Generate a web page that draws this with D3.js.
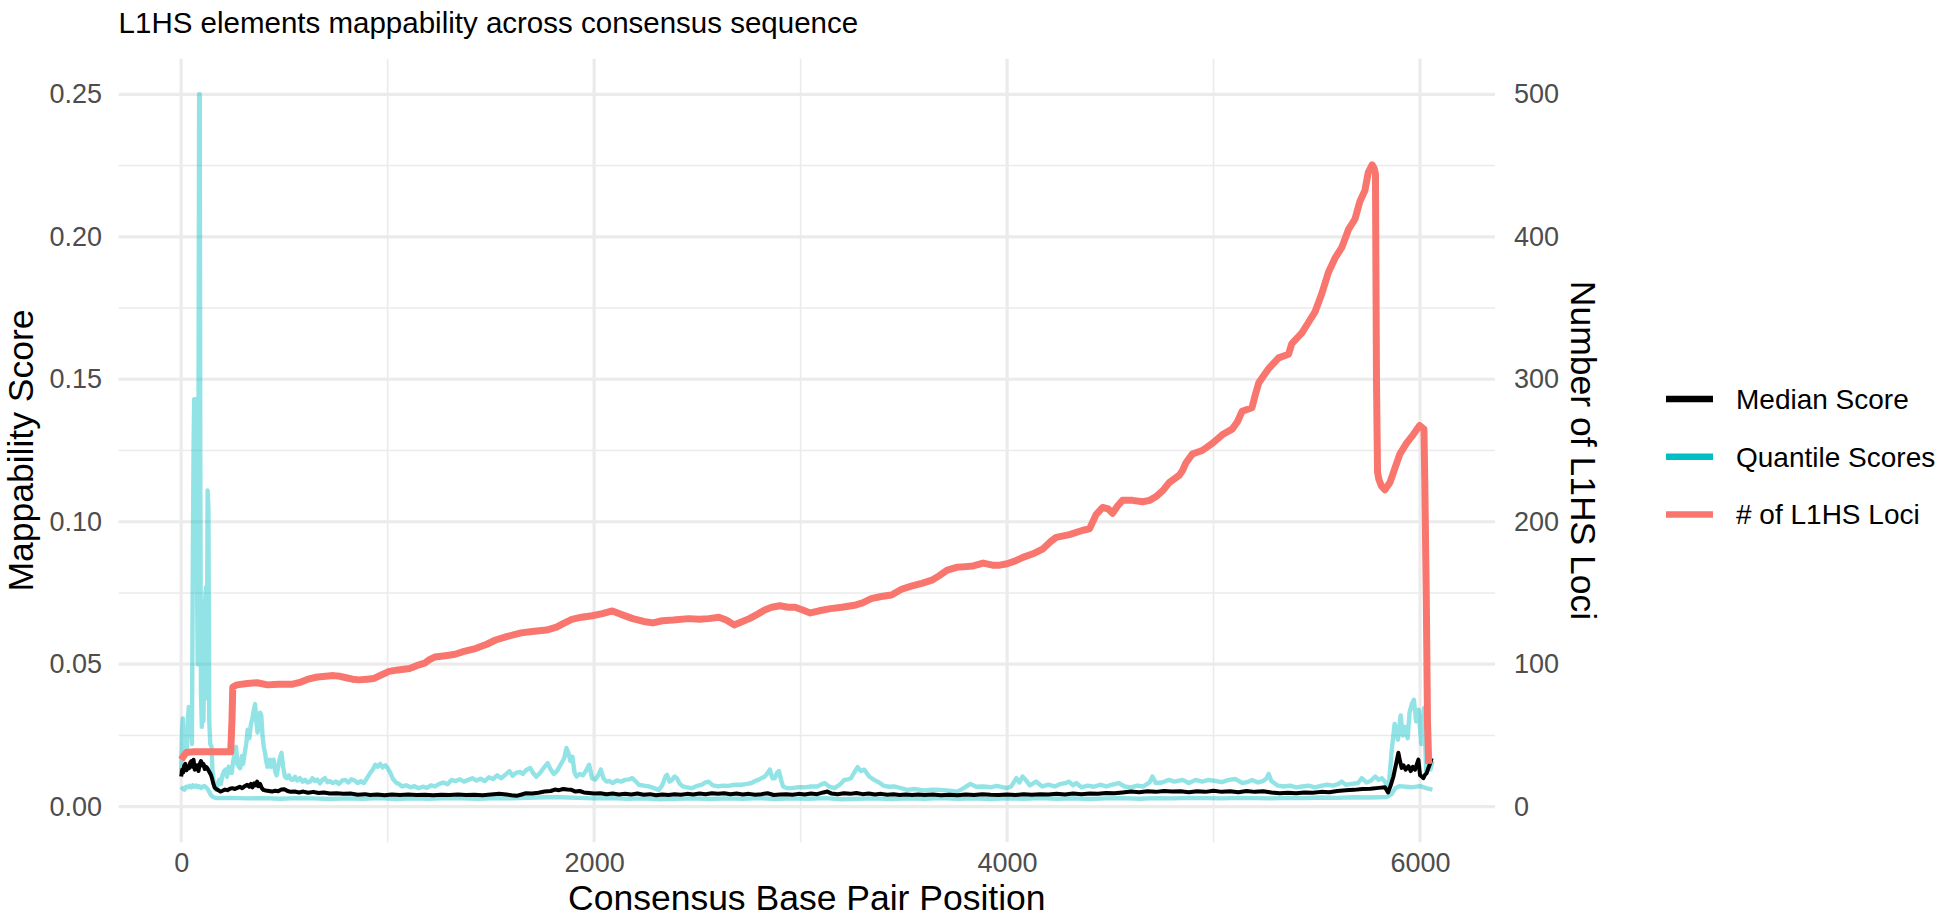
<!DOCTYPE html>
<html>
<head>
<meta charset="utf-8">
<script src="https://cdn.jsdelivr.net/npm/d3@7"></script>
<style>
  body { margin: 0; background: #fff; }
  svg { display: block; font-family: "Liberation Sans", Arial, Helvetica, sans-serif; }
</style>
</head>
<body>
<svg id="chart" width="1946" height="919"></svg>
<script>
// upper quantile score (consensus position, score)
const upperPos = [0,4,8,12,17,22,27,32,37,42,47,52,56,60,63,68,72,76,80,84,87,90,93,96,100,104,108,112,116,120,124,128,132,136,141,147,152,157,163,170,
  178,185,192,200,208,215,222,230,238,245,252,260,266,272,280,286,293,300,308,315,322,330,338,345,352,358,364,370,376,382,388,394,400,406,412,418,424,430,436,442,448,455,462,470,478,486,494,502,512,522,532,542,552,562,575,588,600,612,624,636,648,660,672,684,696,708,720,735,750,765,780,795,810,825,840,855,870,885,900,915,928,940,952,964,976,988,1000,
  1012,1025,1040,1055,1070,1090,1110,1130,1150,1170,1190,1210,1230,1250,1270,1290,1310,1330,1350,1370,1390,1410,1430,1450,1470,1490,1510,1530,1550,1570,1590,1605,1620,1640,1655,1670,1690,1705,1720,1740,1760,1775,1790,1805,1820,1840,1855,1866,1875,1885,1895,1905,1915,1930,1945,1960,1976,1990,
  2005,2020,2032,2045,2060,2075,2090,2110,2130,2150,2170,2185,2200,2217,2240,2265,2290,2313,2330,2345,2353,2365,2377,2390,2401,2415,2430,2450,2473,2495,2522,2540,2554,2575,2602,2625,2650,2680,2714,2740,2762,2780,2795,2810,2827,2840,2851,2863,2875,2885,2895,2905,2915,2935,2955,2985,
  3019,3050,3083,3100,3116,3140,3164,3190,3212,3230,3244,3260,3276,3292,3308,3320,3332,3344,3356,3380,3404,3430,3453,3485,3517,3550,3597,3640,3677,3720,3758,3790,3822,3850,3886,3920,3950,3998,
  4020,4045,4060,4075,4090,4110,4140,4170,4200,4230,4260,4285,4300,4320,4335,4360,4390,4420,4450,4480,4510,4540,4570,4600,4630,4660,4690,4704,4720,4750,4784,4810,4850,4880,4913,4945,4975,
  5010,5040,5074,5106,5140,5170,5187,5215,5240,5255,5267,5280,5310,5340,5370,5400,5430,5460,5490,5520,5550,5580,5605,5621,5640,5670,5700,5718,5740,5760,5783,5800,5815,5830,5847,5863,5877,5893,5906,5917,5928,5940,5949,5960,5970,5981,5993,6006,6019,6030,6040,6050,6060];
const upperScore = [0.012,0.026,0.031,0.020,0.024,0.027,0.020,0.030,0.035,0.026,0.031,0.022,0.080,0.125,0.143,0.108,0.143,0.090,0.050,0.140,0.250,0.250,0.110,0.040,0.028,0.066,0.030,0.060,0.072,0.077,0.038,0.111,0.105,0.030,0.022,0.021,0.012,0.009,0.0065,0.0059,
  0.0085,0.0094,0.0080,0.0110,0.0125,0.0130,0.0105,0.0140,0.0120,0.0118,0.0160,0.0190,0.0210,0.0150,0.0140,0.0135,0.0177,0.0150,0.0190,0.0220,0.0270,0.0240,0.0290,0.0310,0.0340,0.0360,0.0300,0.0260,0.0300,0.0330,0.0320,0.0250,0.0210,0.0190,0.0160,0.0140,0.0150,0.0165,0.0140,0.0150,0.0165,0.0125,0.0110,0.0140,0.0170,0.0189,0.0140,0.0106,0.0100,0.0110,0.0095,0.0094,0.0105,0.0092,0.0100,0.0088,0.0094,0.0085,0.0088,0.0100,0.0090,0.0095,0.0082,0.0094,0.0100,0.0086,0.0090,0.0083,0.0088,0.0080,0.0092,0.0094,0.0085,0.0096,0.0092,0.0083,0.0090,0.0083,0.0100,0.0118,0.0130,0.0147,0.0140,0.0150,0.0138,0.0145,0.0136,
  0.0120,0.0098,0.0085,0.0080,0.0071,0.0075,0.0068,0.0072,0.0065,0.0070,0.0066,0.0075,0.0071,0.0080,0.0085,0.0079,0.0094,0.0090,0.0096,0.0088,0.0094,0.0100,0.0092,0.0098,0.0090,0.0103,0.0097,0.0110,0.0100,0.0112,0.0125,0.0108,0.0118,0.0122,0.0115,0.0128,0.0136,0.0118,0.0105,0.0120,0.0140,0.0153,0.0130,0.0115,0.0125,0.0150,0.0170,0.0206,0.0190,0.0160,0.0175,0.0120,0.0106,0.0115,0.0110,0.0125,0.0147,0.0100,
  0.0095,0.0110,0.0130,0.0100,0.0088,0.0090,0.0083,0.0092,0.0088,0.0094,0.0096,0.0100,0.0090,0.0077,0.0074,0.0071,0.0065,0.0059,0.0075,0.0105,0.0112,0.0088,0.0094,0.0106,0.0100,0.0080,0.0071,0.0068,0.0065,0.0072,0.0077,0.0085,0.0088,0.0075,0.0071,0.0074,0.0073,0.0077,0.0077,0.0080,0.0083,0.0090,0.0094,0.0100,0.0106,0.0118,0.0130,0.0100,0.0100,0.0118,0.0125,0.0095,0.0071,0.0065,0.0065,0.0068,
  0.0068,0.0071,0.0071,0.0078,0.0083,0.0070,0.0065,0.0078,0.0094,0.0096,0.0100,0.0120,0.0139,0.0125,0.0130,0.0118,0.0106,0.0100,0.0094,0.0085,0.0073,0.0070,0.0071,0.0065,0.0059,0.0062,0.0057,0.0060,0.0059,0.0056,0.0053,0.0065,0.0080,0.0070,0.0071,0.0068,0.0073,0.0065,
  0.0071,0.0100,0.0085,0.0106,0.0094,0.0075,0.0088,0.0071,0.0077,0.0071,0.0080,0.0083,0.0088,0.0075,0.0083,0.0068,0.0074,0.0070,0.0077,0.0071,0.0077,0.0083,0.0071,0.0068,0.0074,0.0071,0.0085,0.0106,0.0083,0.0085,0.0094,0.0088,0.0094,0.0083,0.0094,0.0088,0.0094,
  0.0090,0.0086,0.0094,0.0097,0.0083,0.0088,0.0094,0.0085,0.0090,0.0098,0.0115,0.0090,0.0074,0.0071,0.0074,0.0068,0.0071,0.0074,0.0068,0.0073,0.0077,0.0074,0.0080,0.0088,0.0077,0.0080,0.0083,0.0100,0.0085,0.0090,0.0106,0.0094,0.0100,0.0088,0.0059,0.0200,0.0290,0.0235,0.0320,0.0250,0.0280,0.0240,0.0330,0.0360,0.0375,0.0300,0.0340,0.0220,0.0346,0.0120,0.0145,0.0130,0.0160];

// median score
const medianPos = [0,5,10,15,20,26,32,38,44,50,55,60,66,72,78,84,90,96,102,108,114,120,126,132,138,144,150,156,162,170,180,190,200,212,224,236,248,260,272,284,296,308,320,330,338,346,354,362,368,374,382,390,398,410,425,440,455,470,485,500,515,530,550,570,592,615,640,665,690,720,753,785,820,855,890,915,950,985,
  1020,1060,1100,1140,1180,1220,1260,1300,1340,1380,1420,1460,1500,1540,1575,1600,1624,1645,1670,1700,1730,1760,1790,1810,1830,1850,1870,1890,1910,1930,1950,1975,
  2000,2030,2060,2090,2120,2150,2180,2210,2240,2270,2300,2330,2360,2390,2420,2450,2480,2510,2540,2570,2600,2630,2660,2690,2720,2750,2780,2810,2840,2870,2900,2930,2960,2990,
  3020,3050,3080,3110,3130,3150,3180,3210,3240,3270,3300,3330,3360,3390,3420,3450,3480,3510,3540,3570,3600,3640,3680,3720,3760,3800,3840,3880,3920,3960,
  4000,4040,4080,4120,4160,4200,4240,4280,4320,4360,4400,4440,4480,4520,4560,4600,4640,4680,4720,4760,4800,4840,4880,4920,4960,
  5000,5040,5080,5120,5160,5200,5240,5280,5320,5360,5400,5440,5480,5520,5560,5600,5640,5680,5720,5760,5800,5830,5845,5858,5871,5884,5895,5903,5911,5920,5930,5944,5955,5965,5976,5985,5992,6000,6008,6016,6024,6032,6040,6048,6056];
const medianScore = [0.0106,0.0130,0.0120,0.0145,0.0150,0.0128,0.0140,0.0135,0.0155,0.0160,0.0140,0.0165,0.0130,0.0135,0.0145,0.0125,0.0150,0.0160,0.0145,0.0150,0.0132,0.0140,0.0136,0.0128,0.0120,0.0112,0.0098,0.0080,0.0068,0.0062,0.0058,0.0053,0.0056,0.0060,0.0058,0.0063,0.0065,0.0062,0.0066,0.0070,0.0065,0.0072,0.0077,0.0070,0.0080,0.0068,0.0082,0.0075,0.0088,0.0072,0.0080,0.0066,0.0059,0.0057,0.0055,0.0053,0.0056,0.0054,0.0060,0.0061,0.0055,0.0052,0.0053,0.0050,0.0053,0.0049,0.0052,0.0048,0.0050,0.0046,0.0047,0.0045,0.0046,0.0042,0.0044,0.0041,0.0043,0.0040,
  0.0043,0.0041,0.0043,0.0041,0.0042,0.0040,0.0042,0.0041,0.0043,0.0041,0.0042,0.0040,0.0043,0.0045,0.0043,0.0040,0.0038,0.0042,0.0047,0.0046,0.0049,0.0053,0.0055,0.0060,0.0058,0.0062,0.0060,0.0059,0.0053,0.0055,0.0050,0.0048,
  0.0046,0.0047,0.0044,0.0046,0.0043,0.0045,0.0043,0.0046,0.0042,0.0044,0.0040,0.0043,0.0041,0.0044,0.0042,0.0045,0.0043,0.0046,0.0044,0.0047,0.0045,0.0047,0.0044,0.0046,0.0043,0.0045,0.0042,0.0044,0.0047,0.0041,0.0043,0.0044,0.0042,0.0045,
  0.0043,0.0046,0.0044,0.0050,0.0053,0.0046,0.0044,0.0047,0.0045,0.0048,0.0044,0.0046,0.0043,0.0045,0.0042,0.0044,0.0041,0.0043,0.0041,0.0043,0.0041,0.0043,0.0040,0.0042,0.0040,0.0043,0.0041,0.0044,0.0042,0.0041,
  0.0043,0.0041,0.0044,0.0042,0.0044,0.0043,0.0045,0.0043,0.0046,0.0044,0.0046,0.0045,0.0048,0.0047,0.0050,0.0053,0.0051,0.0054,0.0052,0.0055,0.0053,0.0054,0.0051,0.0054,0.0052,
  0.0056,0.0052,0.0054,0.0051,0.0055,0.0052,0.0054,0.0050,0.0047,0.0049,0.0047,0.0050,0.0049,0.0052,0.0051,0.0055,0.0058,0.0059,0.0062,0.0063,0.0066,0.0068,0.0050,0.0075,0.0106,0.0150,0.0189,0.0160,0.0136,0.0145,0.0130,0.0142,0.0125,0.0140,0.0130,0.0150,0.0165,0.0110,0.0106,0.0100,0.0112,0.0118,0.0135,0.0150,0.0170];

// lower quantile score
const lowerPos = [0,8,16,24,32,40,48,56,64,72,80,88,96,104,112,120,128,136,144,152,162,175,
  240,320,400,480,560,640,720,800,880,960,1040,1120,1200,1280,1360,1440,1520,1600,1680,1760,1840,1920,
  2000,2080,2160,2240,2320,2400,2480,2560,2640,2720,2800,2880,2960,3040,3120,3200,3280,3360,3440,3520,3600,3680,3760,3840,3920,
  4000,4080,4160,4240,4320,4400,4480,4560,4640,4720,4800,4880,4960,5040,5120,5200,5280,5360,5440,5520,5600,5680,5760,5840,
  5863,5880,5900,5930,5960,6000,6030,6060];
const lowerScore = [0.0059,0.0065,0.0060,0.0070,0.0068,0.0073,0.0068,0.0075,0.0070,0.0074,0.0068,0.0072,0.0066,0.0070,0.0073,0.0068,0.0062,0.0052,0.0041,0.0035,0.0032,0.0030,
  0.0031,0.0029,0.0030,0.0028,0.0030,0.0029,0.0027,0.0029,0.0028,0.0030,0.0027,0.0029,0.0028,0.0030,0.0029,0.0028,0.0030,0.0029,0.0031,0.0033,0.0033,0.0031,
  0.0029,0.0030,0.0028,0.0029,0.0026,0.0028,0.0029,0.0027,0.0029,0.0028,0.0030,0.0027,0.0029,0.0028,0.0030,0.0026,0.0028,0.0029,0.0027,0.0029,0.0028,0.0030,0.0028,0.0029,0.0027,
  0.0029,0.0028,0.0030,0.0028,0.0029,0.0027,0.0029,0.0030,0.0028,0.0030,0.0029,0.0031,0.0030,0.0029,0.0031,0.0030,0.0029,0.0031,0.0030,0.0032,0.0031,0.0033,0.0032,0.0034,
  0.0045,0.0065,0.0072,0.0070,0.0068,0.0072,0.0065,0.0060];

// number of L1HS loci covering each position
const lociPos = [0,10,25,60,120,180,240,246,250,270,320,368,418,470,540,580,614,660,700,737,770,799,830,860,900,934,970,
  1007,1050,1106,1140,1179,1200,1228,1280,1327,1370,1425,1480,1523,1580,1646,1700,1769,1818,1850,1892,1940,1990,
  2040,2088,2130,2187,2240,2285,2330,2383,2457,2510,2555,2604,2640,2678,2710,2752,2790,2826,2860,2899,2940,2973,
  3010,3047,3090,3145,3200,3268,3300,3342,3390,3440,3470,3489,3540,3587,3636,3670,3710,3756,3800,3836,3884,3930,3965,
  4000,4040,4077,4125,4174,4210,4238,4302,4367,4399,4431,4463,4490,4511,4535,4559,4608,4656,4690,4720,4755,4785,4833,4850,4865,4897,4945,4994,
  5042,5090,5115,5138,5186,5200,5219,5267,5315,5363,5379,5428,5460,5492,5524,5556,5588,5621,5653,5685,5709,5733,5749,5768,5778,5784,5789,5794,5800,5813,5830,5854,5878,5902,5934,5966,5998,
  6010,6019,6023,6030,6036,6042];
const lociCount = [33,35,38,38.5,38.5,38.5,38.5,60,84,85.5,86.5,87,85.5,86,86,87.5,89.5,91,91.5,92,91.5,90.5,89.5,89,89.5,90,92.5,
  95,96,97,99,100.7,103,105,106,107,109,111,114,117,119.5,122,123,124,126,128.5,131.5,133,134,
  135.5,137.4,135,132,130,129,130.5,131,132,131.5,132,133,131,127.6,129.5,132,135,138,140,141,140,140,
  138,136,137.5,139,140,141.6,143,146,147.5,148.6,151,152.6,155,156.8,159,162,166,168,168.5,169,171,169.5,169.5,
  170.5,172.5,175,177.5,181,186,189,191,194,195,205,210,209,206,211,215,215,214,215,217.5,222,227.5,232.5,236,241,247.5,250,255,
  261,265,270,277.5,280,288,297.5,307.5,315,317.5,325,332.5,340,347.5,360,375,385,392.5,405,412.5,425,432.5,445,450.5,448,444,300,235,230,225,222.5,227.5,237.5,247.5,255,261,267.5,
  266,265,227.5,150,60,30];

const lociPerScore = 2000;           // secondary axis: loci = score * 2000
const scoreTicks = [0, 0.05, 0.10, 0.15, 0.20, 0.25];
const scoreMinor = [0.025, 0.075, 0.125, 0.175, 0.225];
const posTicks = [0, 2000, 4000, 6000];
const posMinor = [1000, 3000, 5000];
const lociTicks = [0, 100, 200, 300, 400, 500];

const legendItems = [
  { label: "Median Score", color: "#000000" },
  { label: "Quantile Scores", color: "#00BFC4" },
  { label: "# of L1HS Loci", color: "#F8766D" }
];

const svg = d3.select("#chart");
const panel = { left: 118.6, right: 1495, top: 58.7, bottom: 842.3 };

// ggplot style 5% expansion of the data range
const xMax = d3.max([d3.max(upperPos), d3.max(medianPos), d3.max(lowerPos), d3.max(lociPos)]);
const x = d3.scaleLinear()
  .domain([-0.05 * xMax, 1.05 * xMax])
  .range([panel.left, panel.right]);
const yMax = d3.max(upperScore);
const y = d3.scaleLinear()
  .domain([-0.05 * yMax, 1.05 * yMax])
  .range([panel.bottom, panel.top]);
const ySec = d3.scaleLinear()
  .domain(y.domain().map(d => d * lociPerScore))
  .range(y.range());

// grid
const grid = svg.append("g").attr("stroke", "#EBEBEB").attr("fill", "none");
grid.selectAll(".hminor").data(scoreMinor).join("line")
  .attr("x1", panel.left).attr("x2", panel.right)
  .attr("y1", d => y(d)).attr("y2", d => y(d)).attr("stroke-width", 1.6);
grid.selectAll(".vminor").data(posMinor).join("line")
  .attr("y1", panel.top).attr("y2", panel.bottom)
  .attr("x1", d => x(d)).attr("x2", d => x(d)).attr("stroke-width", 1.6);
grid.selectAll(".hmajor").data(scoreTicks).join("line")
  .attr("x1", panel.left).attr("x2", panel.right)
  .attr("y1", d => y(d)).attr("y2", d => y(d)).attr("stroke-width", 3.2);
grid.selectAll(".vmajor").data(posTicks).join("line")
  .attr("y1", panel.top).attr("y2", panel.bottom)
  .attr("x1", d => x(d)).attr("x2", d => x(d)).attr("stroke-width", 3.2);

// lines
const line = d3.line().x(d => x(d[0])).y(d => y(d[1]));
const zip = (a, b) => a.map((v, i) => [v, b[i]]);

svg.append("path").datum(zip(upperPos, upperScore))
  .attr("d", line).attr("fill", "none").attr("stroke", "#00BFC4")
  .attr("stroke-opacity", 0.43).attr("stroke-width", 4.4).attr("stroke-linejoin", "round");
svg.append("path").datum(zip(lowerPos, lowerScore))
  .attr("d", line).attr("fill", "none").attr("stroke", "#00BFC4")
  .attr("stroke-opacity", 0.43).attr("stroke-width", 4.4).attr("stroke-linejoin", "round");
svg.append("path").datum(zip(medianPos, medianScore))
  .attr("d", line).attr("fill", "none").attr("stroke", "#000")
  .attr("stroke-width", 4).attr("stroke-linejoin", "round");
svg.append("path").datum(zip(lociPos, lociCount.map(d => d / lociPerScore)))
  .attr("d", line).attr("fill", "none").attr("stroke", "#F8766D")
  .attr("stroke-width", 7).attr("stroke-linejoin", "round");

// axes (labels only, like theme_minimal)
const tickFont = g => {
  g.select(".domain").remove();
  g.selectAll(".tick line").remove();
  g.selectAll("text").attr("fill", "#4D4D4D").style("font-size", "27px");
};

svg.append("g").attr("transform", `translate(${panel.left},0)`)
  .call(d3.axisLeft(y).tickValues(scoreTicks).tickSize(0).tickPadding(16.5).tickFormat(d3.format(".2f")))
  .call(tickFont);
svg.append("g").attr("transform", `translate(${panel.right},0)`)
  .call(d3.axisRight(ySec).tickValues(lociTicks).tickSize(0).tickPadding(19).tickFormat(d3.format("d")))
  .call(tickFont);
svg.append("g").attr("transform", `translate(0,${panel.bottom})`)
  .call(d3.axisBottom(x).tickValues(posTicks).tickSize(0).tickPadding(10.5).tickFormat(d3.format("d")))
  .call(tickFont);

// titles
svg.append("text").attr("x", panel.left).attr("y", 33)
  .style("font-size", "29.5px").attr("fill", "#000")
  .text("L1HS elements mappability across consensus sequence");
svg.append("text").attr("x", (panel.left + panel.right) / 2).attr("y", 910)
  .attr("text-anchor", "middle").style("font-size", "35.5px")
  .text("Consensus Base Pair Position");
svg.append("text")
  .attr("transform", `translate(33,${(panel.top + panel.bottom) / 2}) rotate(-90)`)
  .attr("text-anchor", "middle").style("font-size", "35.5px")
  .text("Mappability Score");
svg.append("text")
  .attr("transform", `translate(1571,${(panel.top + panel.bottom) / 2}) rotate(90)`)
  .attr("text-anchor", "middle").style("font-size", "35.5px")
  .text("Number of L1HS Loci");

// legend
const legend = svg.append("g").attr("transform", "translate(1666,399)");
const rows = legend.selectAll("g").data(legendItems).join("g")
  .attr("transform", (d, i) => `translate(0,${i * 57.7})`);
rows.append("line").attr("x1", 0).attr("x2", 47)
  .attr("stroke", d => d.color).attr("stroke-width", 6.5);
rows.append("text").attr("x", 70).attr("dy", "0.35em")
  .style("font-size", "28px").attr("fill", "#000")
  .text(d => d.label);
</script>
</body>
</html>
